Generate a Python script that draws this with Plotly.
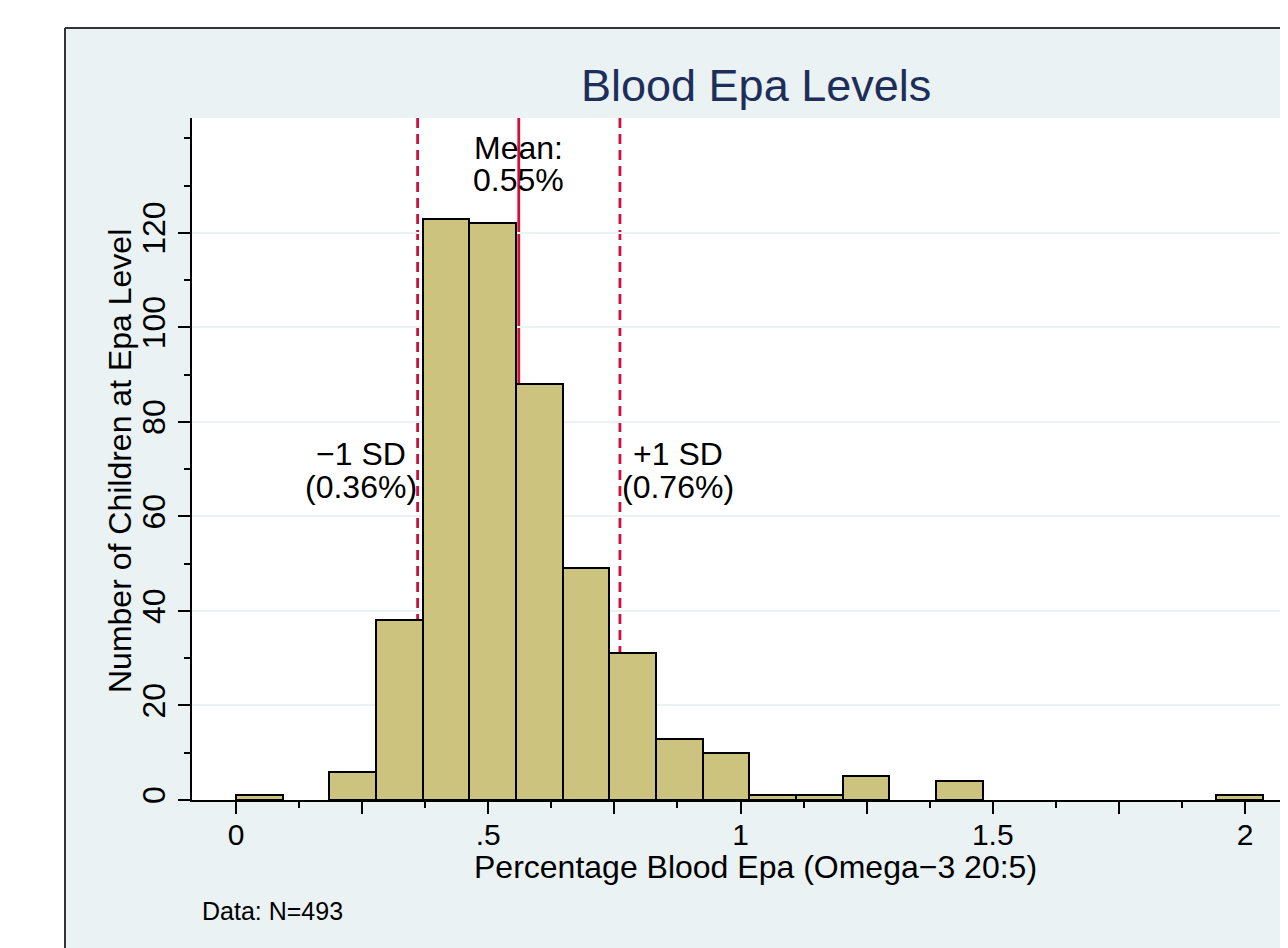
import plotly.graph_objects as go

# ---- data ----
bin_start = 0.0
bin_width = 0.0925
counts = [1, 0, 6, 38, 123, 122, 88, 49, 31, 13, 10, 1, 1, 5, 0, 4, 0, 0, 0, 0, 0, 1]
mean_val = 0.5605
sd_low = 0.360
sd_high = 0.761
x_tickvals = [0, 0.25, 0.5, 0.75, 1, 1.25, 1.5, 1.75, 2]
x_ticktext = ["0", "", ".5", "", "1", "", "1.5", "", "2"]
y_tickvals = [0, 20, 40, 60, 80, 100, 120]
y_ticktext = ["0", "20", "40", "60", "80", "100", "120"]

# ---- layout geometry (pixels; page has an 8px body margin) ----
OFF = 8
W, H = 1280, 940
L, R, T, B = 184, 0, 110, 148
PW, PH = W - L - R, H - T - B
def xp(px): return (px - OFF - L) / PW          # page px -> paper x
def yp(py): return (H - B - (py - OFF)) / PH    # page px -> paper y

XMIN, XMAX = -0.0872, 2.0852
YMAX = 144.3

FONT = "Liberation Sans, Arial, Helvetica, sans-serif"
BG = "#EAF2F3"
RED = "#D0103C"

centers, heights = [], []
for i, c in enumerate(counts):
    if c > 0:
        centers.append(bin_start + (i + 0.5) * bin_width)
        heights.append(c)

fig = go.Figure()
fig.add_trace(go.Bar(
    x=centers, y=heights, width=bin_width,
    marker=dict(color="#CBC37E", line=dict(color="black", width=2)),
    hoverinfo="x+y", showlegend=False,
))

shapes = []
for xv, dash in [(sd_low, "10px,6px"), (mean_val, "solid"), (sd_high, "10px,6px")]:
    shapes.append(dict(type="line", xref="x", yref="y", x0=xv, x1=xv, y0=0, y1=YMAX,
                       layer="below", line=dict(color=RED, width=2.8, dash=dash)))
# white page margin outside the chart frame
shapes.append(dict(type="rect", xref="paper", yref="paper", x0=xp(-20), x1=xp(65), y0=yp(H + 40), y1=yp(-20),
                   fillcolor="white", line=dict(width=0), layer="above"))
shapes.append(dict(type="rect", xref="paper", yref="paper", x0=xp(-20), x1=xp(W + 40), y0=yp(28), y1=yp(-20),
                   fillcolor="white", line=dict(width=0), layer="above"))
shapes.append(dict(type="line", xref="paper", yref="paper", x0=xp(65), x1=xp(65), y0=yp(28), y1=yp(H + 40),
                   line=dict(color="#333333", width=2), layer="above"))
shapes.append(dict(type="line", xref="paper", yref="paper", x0=xp(65), x1=xp(W + 40), y0=yp(28), y1=yp(28),
                   line=dict(color="#333333", width=2), layer="above"))

ann = []
def text(x, y, s, size, color="black", xref="x", yref="y", xanchor="center", yanchor="middle", textangle=0):
    ann.append(dict(x=x, y=y, xref=xref, yref=yref, text=s, showarrow=False,
                    font=dict(family=FONT, size=size, color=color),
                    xanchor=xanchor, yanchor=yanchor, textangle=textangle))

ypx = lambda py: (800 - py) / 4.725
text(mean_val, ypx(148), "Mean:", 32)
text(mean_val, ypx(180), "0.55%", 32)
text(0.247, ypx(454), "\u22121 SD", 32)
text(0.247, ypx(487), "(0.36%)", 32)
text(0.876, ypx(454), "+1 SD", 32)
text(0.876, ypx(487), "(0.76%)", 32)

text(xp(756), yp(85), "Blood Epa Levels", 45, color="#1E2E5A", xref="paper", yref="paper")
text(xp(755), yp(867), "Percentage Blood Epa (Omega\u22123 20:5)", 32, xref="paper", yref="paper")
text(xp(120), yp(461), "Number of Children at Epa Level", 32, xref="paper", yref="paper", textangle=-90)
text(xp(200), yp(911), "Data: N=493", 25, xref="paper", yref="paper", xanchor="left")

fig.update_layout(
    width=W, height=H,
    margin=dict(l=L, r=R, t=T, b=B, pad=0),
    paper_bgcolor=BG, plot_bgcolor="white",
    font=dict(family=FONT, size=32, color="black"),
    shapes=shapes, annotations=ann, bargap=0,
    xaxis=dict(range=[XMIN, XMAX], tickmode="array", tickvals=x_tickvals, ticktext=x_ticktext,
               ticks="outside", ticklen=12, tickwidth=2, tickcolor="black",
               showline=True, linecolor="black", linewidth=2, showgrid=False, zeroline=False,
               minor=dict(dtick=0.125, tick0=0, ticks="outside", ticklen=6, tickwidth=2,
                          tickcolor="black", showgrid=False),
               tickfont=dict(size=30), ticklabelstandoff=-5, fixedrange=True),
    yaxis=dict(range=[0, YMAX], tickmode="array", tickvals=y_tickvals, ticktext=y_ticktext,
               ticks="outside", ticklen=12, tickwidth=2, tickcolor="black", tickangle=-90,
               showline=True, linecolor="black", linewidth=2, showgrid=True, gridcolor=BG, gridwidth=2,
               zeroline=False,
               minor=dict(dtick=10, tick0=0, ticks="outside", ticklen=6, tickwidth=2,
                          tickcolor="black", showgrid=False),
               tickfont=dict(size=32), fixedrange=True),
)

fig.write_html("out.html")
